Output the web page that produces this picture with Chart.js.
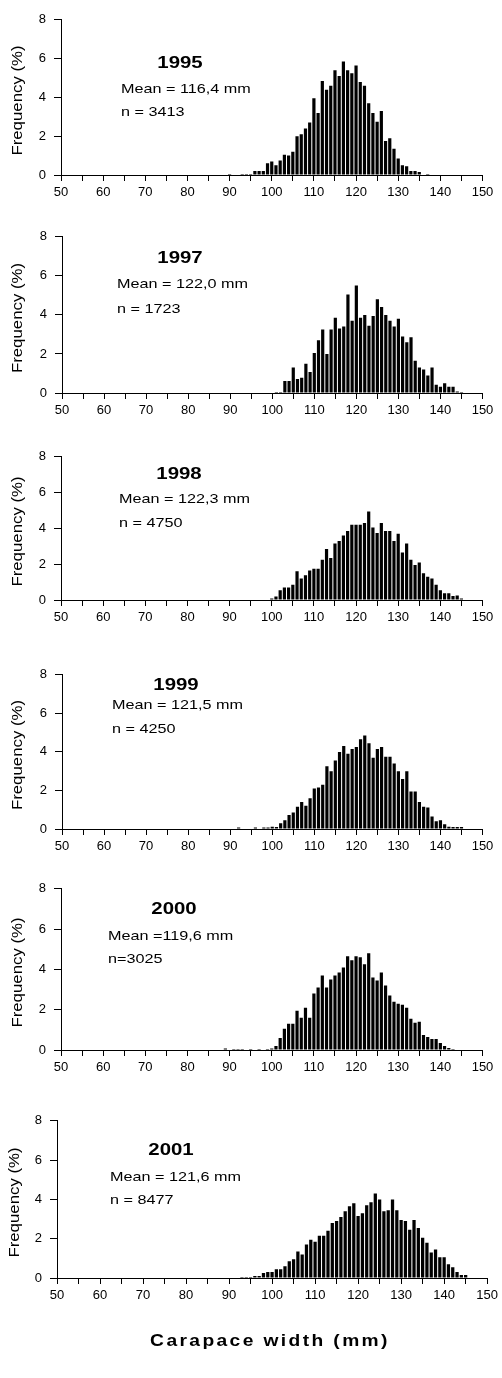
<!DOCTYPE html>
<html>
<head>
<meta charset="utf-8">
<script src="https://cdn.jsdelivr.net/npm/chart.js@4.4.1/dist/chart.umd.min.js"></script>
<style>
  html, body { margin: 0; padding: 0; background: #fff; }
  body { width: 502px; height: 1378px; position: relative; overflow: hidden; }
  canvas { position: absolute; left: 0; }
</style>
</head>
<body>
<script>
// carapace width bins (mm), one bar per mm
const binsMm = [88, 89, 90, 91, 92, 93, 94, 95, 96, 97,
  98, 99, 100, 101, 102, 103, 104, 105, 106, 107,
  108, 109, 110, 111, 112, 113, 114, 115, 116, 117,
  118, 119, 120, 121, 122, 123, 124, 125, 126, 127,
  128, 129, 130, 131, 132, 133, 134, 135, 136, 137,
  138, 139, 140, 141, 142, 143, 144, 145, 146];

// frequency (%) per bin
const freq1995 = [0, 0, 0.05, 0, 0, 0.05, 0.05, 0.05, 0.2, 0.2,
  0.2, 0.6, 0.7, 0.5, 0.75, 1.05, 1.0, 1.2, 2.0, 2.1,
  2.4, 2.7, 3.95, 3.2, 4.85, 4.4, 4.6, 5.4, 5.1, 5.85,
  5.4, 5.25, 5.65, 4.8, 4.6, 3.7, 3.2, 2.75, 3.3, 1.75,
  1.9, 1.35, 0.85, 0.5, 0.45, 0.2, 0.2, 0.15, 0, 0.05,
  0, 0, 0, 0, 0, 0, 0, 0, 0];
const freq1997 = [0, 0, 0, 0, 0, 0, 0, 0, 0, 0,
  0, 0, 0, 0.05, 0.05, 0.62, 0.62, 1.3, 0.72, 0.78,
  1.5, 1.08, 2.05, 2.7, 3.25, 2.0, 3.25, 3.85, 3.3, 3.4,
  5.05, 3.7, 5.5, 3.85, 4.0, 3.45, 3.95, 4.8, 4.4, 4.0,
  3.7, 3.4, 3.8, 2.9, 2.6, 2.85, 1.65, 1.3, 1.2, 0.9,
  1.3, 0.42, 0.32, 0.5, 0.32, 0.32, 0.08, 0.05, 0];
const freq1998 = [0, 0, 0, 0, 0, 0, 0, 0, 0, 0,
  0, 0, 0.08, 0.2, 0.55, 0.7, 0.7, 0.85, 1.6, 1.2,
  1.38, 1.65, 1.75, 1.75, 2.25, 2.85, 2.35, 3.15, 3.3, 3.6,
  3.85, 4.2, 4.2, 4.2, 4.3, 4.95, 4.05, 3.75, 4.3, 3.85,
  3.85, 3.3, 3.7, 2.65, 3.15, 2.25, 1.95, 2.1, 1.5, 1.3,
  1.2, 0.85, 0.55, 0.38, 0.38, 0.22, 0.25, 0.08, 0];
const freq1999 = [0, 0, 0, 0, 0.08, 0, 0, 0, 0.08, 0,
  0.08, 0.08, 0.12, 0.1, 0.3, 0.45, 0.72, 0.85, 1.15, 1.4,
  1.2, 1.6, 2.1, 2.15, 2.3, 3.25, 3.0, 3.55, 4.0, 4.3,
  3.9, 4.15, 4.25, 4.65, 4.85, 4.45, 3.7, 4.15, 4.25, 3.75,
  3.75, 3.4, 3.0, 2.6, 3.0, 1.95, 1.95, 1.4, 1.15, 1.12,
  0.65, 0.4, 0.45, 0.25, 0.12, 0.1, 0.1, 0.1, 0];
const freq2000 = [0, 0.08, 0, 0.05, 0.05, 0.05, 0, 0.05, 0, 0.05,
  0, 0.05, 0.08, 0.2, 0.6, 1.05, 1.3, 1.3, 1.95, 1.6,
  2.1, 1.6, 2.8, 3.1, 3.7, 3.1, 3.5, 3.7, 3.85, 4.1,
  4.65, 4.45, 4.65, 4.6, 4.25, 4.8, 3.6, 3.45, 3.85, 3.2,
  2.7, 2.4, 2.3, 2.25, 2.1, 1.55, 1.35, 1.4, 0.75, 0.65,
  0.55, 0.55, 0.35, 0.2, 0.1, 0.05, 0, 0, 0];
const freq2001 = [0, 0, 0, 0, 0, 0.05, 0.05, 0.05, 0.1, 0.1,
  0.25, 0.3, 0.3, 0.45, 0.45, 0.6, 0.85, 0.95, 1.35, 1.2,
  1.7, 1.95, 1.85, 2.15, 2.15, 2.4, 2.8, 2.9, 3.1, 3.4,
  3.65, 3.8, 3.15, 3.3, 3.7, 3.85, 4.3, 4.0, 3.4, 3.45,
  4.0, 3.45, 2.95, 2.9, 2.45, 2.95, 2.55, 2.05, 1.8, 1.3,
  1.45, 1.05, 1.05, 0.7, 0.55, 0.3, 0.15, 0.15, 0];

const years = ['1995', '1997', '1998', '1999', '2000', '2001'];
const meanLabels = ['Mean = 116,4 mm', 'Mean = 122,0 mm', 'Mean = 122,3 mm',
  'Mean = 121,5 mm', 'Mean =119,6 mm', 'Mean = 121,6 mm'];
const nLabels = ['n = 3413', 'n = 1723', 'n = 4750', 'n = 4250', 'n=3025', 'n = 8477'];
const series = [freq1995, freq1997, freq1998, freq1999, freq2000, freq2001];

const yTitle = 'Frequency (%)';
const xTitle = 'Carapace width (mm)';

// page geometry of each panel (px)
const plotTop   = [16, 233, 453, 671, 885, 1117];
const plotZero  = [175, 393, 600, 829, 1050, 1278];
const plotLeft  = [61, 62, 61, 62, 61, 57];
const plotRight = [482.5, 482.5, 482.5, 482.5, 482.5, 488];
const yTitleX   = [18, 18, 18, 18, 18, 15];
const yearPos = [[180, 63], [180, 258], [179, 474], [176, 685], [174, 909], [171, 1150]];
const meanPos = [[121, 89], [117, 284], [119, 499], [112, 705], [108, 936], [110, 1177]];
const nPos    = [[121, 112], [117, 309], [119, 523], [112, 729], [108, 959], [110, 1200]];

const FONT = "'Liberation Sans', Arial, sans-serif";
const SX = 1.2; // the figure is a bit stretched sideways

function textPlugin(items, offsetY) {
  return {
    id: 'panelText',
    afterDraw(chart) {
      const ctx = chart.ctx;
      items.forEach(it => {
        ctx.save();
        ctx.font = it.font;
        ctx.fillStyle = '#000';
        ctx.textBaseline = 'middle';
        ctx.textAlign = it.align;
        if (it.spacing) ctx.letterSpacing = it.spacing;
        ctx.translate(it.x, it.y - offsetY);
        if (it.rotate) ctx.rotate(it.rotate);
        ctx.scale(SX, 1);
        ctx.fillText(it.text, 0, 0);
        ctx.restore();
      });
    }
  };
}

series.forEach((freq, i) => {
  const canvasTop = plotTop[i] - 12;
  const last = i === series.length - 1;
  const canvasH = last ? 1378 - canvasTop : plotZero[i] - canvasTop + 32;
  const axisH = canvasH - (plotZero[i] - canvasTop);

  const cv = document.createElement('canvas');
  cv.width = 502;
  cv.height = canvasH;
  cv.style.top = canvasTop + 'px';
  cv.style.width = '502px';
  cv.style.height = canvasH + 'px';
  document.body.appendChild(cv);

  const items = [
    { text: years[i], x: yearPos[i][0], y: yearPos[i][1], font: 'bold 17px ' + FONT, align: 'center' },
    { text: meanLabels[i], x: meanPos[i][0], y: meanPos[i][1], font: '13.5px ' + FONT, align: 'left' },
    { text: nLabels[i], x: nPos[i][0], y: nPos[i][1], font: '13.5px ' + FONT, align: 'left' },
    { text: yTitle, x: yTitleX[i], y: (plotTop[i] + plotZero[i]) / 2 + 5, font: '14px ' + FONT,
      align: 'center', rotate: -Math.PI / 2 }
  ];
  if (last) {
    items.push({ text: xTitle, x: 270, y: 1342, font: 'bold 16px ' + FONT, align: 'center', spacing: '2px' });
  }

  new Chart(cv, {
    type: 'bar',
    data: {
      datasets: [{
        data: binsMm.map((b, k) => ({ x: b, y: freq[k] })),
        backgroundColor: '#000',
        borderWidth: 0,
        barPercentage: 1,
        categoryPercentage: 0.76
      }]
    },
    options: {
      responsive: false,
      animation: false,
      events: [],
      layout: { padding: { top: 12, right: 502 - plotRight[i], left: 0, bottom: 0 } },
      plugins: { legend: { display: false }, tooltip: { enabled: false } },
      scales: {
        x: {
          type: 'linear',
          min: 50,
          max: 150,
          offset: false,
          afterFit: s => { s.height = axisH; },
          grid: { offset: false, drawOnChartArea: false, drawTicks: true, tickLength: 6, color: '#000' },
          border: { color: '#000', width: 1 },
          ticks: {
            stepSize: 5,
            autoSkip: false,
            maxRotation: 0,
            padding: 4,
            color: '#000',
            font: { family: FONT, size: 13 },
            callback: v => (v % 10 === 0 ? String(v) : '')
          }
        },
        y: {
          min: 0,
          max: 8,
          afterFit: s => { s.width = plotLeft[i]; },
          grid: { drawOnChartArea: false, drawTicks: true, tickLength: 7, color: '#000' },
          border: { color: '#000', width: 1 },
          ticks: { stepSize: 2, padding: 8, color: '#000', font: { family: FONT, size: 13 } }
        }
      }
    },
    plugins: [textPlugin(items, canvasTop)]
  });
});
</script>
</body>
</html>
